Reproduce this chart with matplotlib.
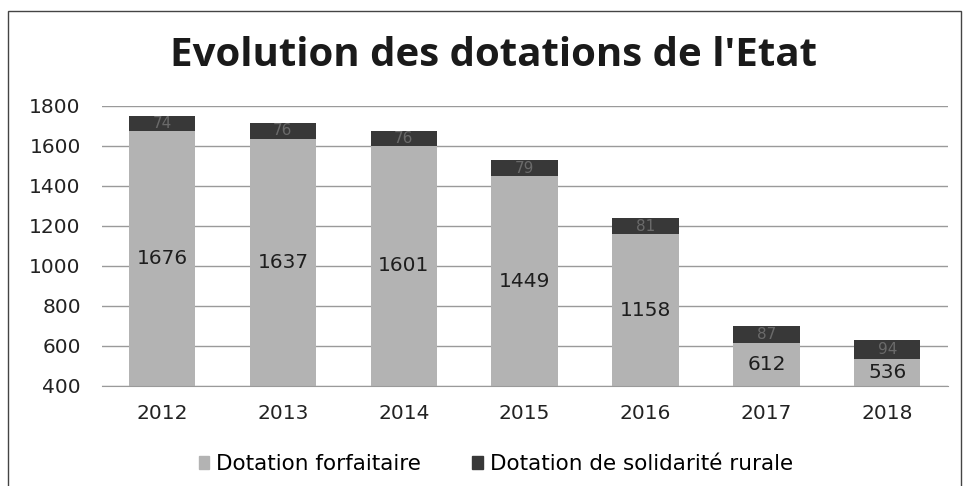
import matplotlib
matplotlib.use("Agg")
import matplotlib.pyplot as plt
import numpy as np
from matplotlib.patches import Patch

years = ["2012", "2013", "2014", "2015", "2016", "2017", "2018"]
forfaitaire = [1676, 1637, 1601, 1449, 1158, 612, 536]
solidarite = [74, 76, 76, 79, 81, 87, 94]
yticks = [400, 600, 800, 1000, 1200, 1400, 1600, 1800]

plt.rcParams['font.family'] = ['DejaVu Sans']

fig = plt.figure(figsize=(9.68, 4.86), dpi=100)
fig.patch.set_facecolor("white")
frame = plt.Rectangle((0.008, -0.01), 0.985, 0.988, transform=fig.transFigure,
                      fill=False, edgecolor="#444444", linewidth=1.0)
fig.add_artist(frame)

ax = fig.add_axes([0.105, 0.206, 0.874, 0.576])
x = np.arange(len(years))
w = 0.55
c1 = "#b3b3b3"
c2 = "#383838"
ax.bar(x, forfaitaire, width=w, color=c1, zorder=2)
ax.bar(x, solidarite, width=w, bottom=forfaitaire, color=c2, zorder=2)

ymin, ymax = 400, 1800
ax.set_ylim(ymin, ymax)
ax.set_xlim(-0.5, len(years) - 0.5)
ax.set_yticks(yticks)
ax.set_yticklabels([str(v) for v in yticks], fontsize=14.5, color="#222222")
ax.set_xticks(x)
ax.set_xticklabels(years, fontsize=14.5, color="#222222")
ax.yaxis.grid(True, color="#9a9a9a", linewidth=1.0, zorder=0)
ax.set_axisbelow(True)
for s in ["top", "right", "left"]:
    ax.spines[s].set_visible(False)
ax.spines["bottom"].set_color("#9a9a9a")
ax.tick_params(axis="y", length=0, pad=15)
ax.tick_params(axis="x", length=0, pad=13)

for i in range(len(years)):
    f = forfaitaire[i]
    s = solidarite[i]
    mid = (max(0, ymin) + f) / 2
    ax.text(x[i], mid, str(f), ha="center", va="center", fontsize=14.5, color="#1e1e1e", zorder=3)
    ax.text(x[i], f + s / 2, str(s), ha="center", va="center", fontsize=11, color="#6a6a6a", zorder=3)

fig.text(0.51, 0.885, "Evolution des dotations de l'Etat", ha="center", va="center",
         fontsize=29, fontweight="bold", color="#1a1a1a", family=["Open Sans", "DejaVu Sans"])

handles = [Patch(color=c1, label="Dotation forfaitaire"),
           Patch(color=c2, label="Dotation de solidarité rurale")]
fig.legend(handles=handles, loc="center", bbox_to_anchor=(0.512, 0.045), ncol=2,
           frameon=False, fontsize=15.5, handlelength=0.5, handleheight=0.5,
           handletextpad=0.3, columnspacing=2.4)

fig.savefig("out.png", dpi=100)
